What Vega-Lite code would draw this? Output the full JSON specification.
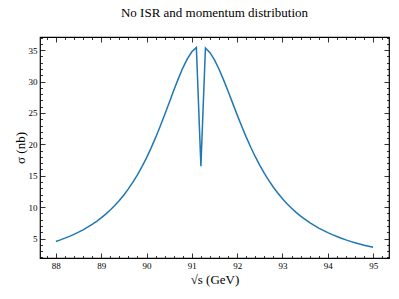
{
  "$schema": "https://vega.github.io/schema/vega-lite/v6.json",
  "width": 349,
  "height": 221,
  "autosize": "none",
  "padding": {"left": 40, "top": 37, "right": 10, "bottom": 41},
  "title": {"text": "No ISR and momentum distribution", "fontSize": 13, "fontWeight": "normal", "font": "Liberation Serif", "offset": 17, "color": "black", "anchor": "middle"},
  "data": {"values": [
    {"E": 88.0, "sigma": 4.539}, {"E": 88.1, "sigma": 4.789}, {"E": 88.2, "sigma": 5.059}, {"E": 88.3, "sigma": 5.352},
    {"E": 88.4, "sigma": 5.670}, {"E": 88.5, "sigma": 6.016}, {"E": 88.6, "sigma": 6.393}, {"E": 88.7, "sigma": 6.805},
    {"E": 88.8, "sigma": 7.255}, {"E": 88.9, "sigma": 7.749}, {"E": 89.0, "sigma": 8.290}, {"E": 89.1, "sigma": 8.885},
    {"E": 89.2, "sigma": 9.540}, {"E": 89.3, "sigma": 10.262}, {"E": 89.4, "sigma": 11.058}, {"E": 89.5, "sigma": 11.936},
    {"E": 89.6, "sigma": 12.906}, {"E": 89.7, "sigma": 13.975}, {"E": 89.8, "sigma": 15.152}, {"E": 89.9, "sigma": 16.446},
    {"E": 90.0, "sigma": 17.860}, {"E": 90.1, "sigma": 19.404}, {"E": 90.2, "sigma": 21.067}, {"E": 90.3, "sigma": 22.842},
    {"E": 90.4, "sigma": 24.711}, {"E": 90.5, "sigma": 26.634}, {"E": 90.6, "sigma": 28.566}, {"E": 90.7, "sigma": 30.431},
    {"E": 90.8, "sigma": 32.149}, {"E": 90.9, "sigma": 33.623}, {"E": 91.0, "sigma": 34.748}, {"E": 91.1, "sigma": 35.443},
    {"E": 91.2, "sigma": 16.5},
    {"E": 91.3, "sigma": 35.354}, {"E": 91.4, "sigma": 34.598}, {"E": 91.5, "sigma": 33.441}, {"E": 91.6, "sigma": 31.969},
    {"E": 91.7, "sigma": 30.274}, {"E": 91.8, "sigma": 28.446}, {"E": 91.9, "sigma": 26.567}, {"E": 92.0, "sigma": 24.696},
    {"E": 92.1, "sigma": 22.882}, {"E": 92.2, "sigma": 21.156}, {"E": 92.3, "sigma": 19.536}, {"E": 92.4, "sigma": 18.033},
    {"E": 92.5, "sigma": 16.649}, {"E": 92.6, "sigma": 15.380}, {"E": 92.7, "sigma": 14.223}, {"E": 92.8, "sigma": 13.168},
    {"E": 92.9, "sigma": 12.211}, {"E": 93.0, "sigma": 11.340}, {"E": 93.1, "sigma": 10.549}, {"E": 93.2, "sigma": 9.830},
    {"E": 93.3, "sigma": 9.176}, {"E": 93.4, "sigma": 8.580}, {"E": 93.5, "sigma": 8.037}, {"E": 93.6, "sigma": 7.540},
    {"E": 93.7, "sigma": 7.086}, {"E": 93.8, "sigma": 6.671}, {"E": 93.9, "sigma": 6.289}, {"E": 94.0, "sigma": 5.938},
    {"E": 94.1, "sigma": 5.615}, {"E": 94.2, "sigma": 5.317}, {"E": 94.3, "sigma": 5.042}, {"E": 94.4, "sigma": 4.787},
    {"E": 94.5, "sigma": 4.551}, {"E": 94.6, "sigma": 4.332}, {"E": 94.7, "sigma": 4.128}, {"E": 94.8, "sigma": 3.938},
    {"E": 94.9, "sigma": 3.761}, {"E": 95.0, "sigma": 3.596}
  ]},
  "layer": [
    {
      "mark": {"type": "line", "color": "#1f77b4", "strokeWidth": 1.5, "clip": true},
      "encoding": {
        "x": {"field": "E", "type": "quantitative", "scale": {"domain": [87.65, 95.35], "nice": false, "zero": false},
              "axis": {"orient": "bottom", "values": [88, 89, 90, 91, 92, 93, 94, 95], "tickSize": -5, "labelPadding": 8, "title": "√s (GeV)", "titleFontSize": 13, "titlePadding": 3, "format": "d"}},
        "y": {"field": "sigma", "type": "quantitative", "scale": {"domain": [1.9, 37.1], "nice": false, "zero": false},
              "axis": {"orient": "left", "values": [5, 10, 15, 20, 25, 30, 35], "tickSize": -5, "labelPadding": 8, "title": "σ (nb)", "titleFontSize": 13, "titlePadding": 1, "format": "d"}}
      }
    },
    {
      "mark": {"type": "line", "opacity": 0},
      "encoding": {
        "x": {"field": "E", "type": "quantitative", "scale": {"domain": [87.65, 95.35], "nice": false, "zero": false},
              "axis": {"orient": "bottom", "values": [87.8, 88.2, 88.4, 88.6, 88.8, 89.2, 89.4, 89.6, 89.8, 90.2, 90.4, 90.6, 90.8, 91.2, 91.4, 91.6, 91.8, 92.2, 92.4, 92.6, 92.8, 93.2, 93.4, 93.6, 93.8, 94.2, 94.4, 94.6, 94.8, 95.2], "tickSize": -2.5, "labels": false, "title": null}},
        "y": {"field": "sigma", "type": "quantitative", "scale": {"domain": [1.9, 37.1], "nice": false, "zero": false},
              "axis": {"orient": "left", "values": [2, 3, 4, 6, 7, 8, 9, 11, 12, 13, 14, 16, 17, 18, 19, 21, 22, 23, 24, 26, 27, 28, 29, 31, 32, 33, 34, 36, 37], "tickSize": -2.5, "labels": false, "title": null}}
      }
    },
    {
      "mark": {"type": "line", "opacity": 0},
      "encoding": {
        "x": {"field": "E", "type": "quantitative", "scale": {"domain": [87.65, 95.35], "nice": false, "zero": false},
              "axis": {"orient": "top", "values": [88, 89, 90, 91, 92, 93, 94, 95], "tickSize": -5, "labels": false, "title": null}},
        "y": {"field": "sigma", "type": "quantitative", "scale": {"domain": [1.9, 37.1], "nice": false, "zero": false},
              "axis": {"orient": "right", "values": [5, 10, 15, 20, 25, 30, 35], "tickSize": -5, "labels": false, "title": null}}
      }
    },
    {
      "mark": {"type": "line", "opacity": 0},
      "encoding": {
        "x": {"field": "E", "type": "quantitative", "scale": {"domain": [87.65, 95.35], "nice": false, "zero": false},
              "axis": {"orient": "top", "values": [87.8, 88.2, 88.4, 88.6, 88.8, 89.2, 89.4, 89.6, 89.8, 90.2, 90.4, 90.6, 90.8, 91.2, 91.4, 91.6, 91.8, 92.2, 92.4, 92.6, 92.8, 93.2, 93.4, 93.6, 93.8, 94.2, 94.4, 94.6, 94.8, 95.2], "tickSize": -2.5, "labels": false, "title": null}},
        "y": {"field": "sigma", "type": "quantitative", "scale": {"domain": [1.9, 37.1], "nice": false, "zero": false},
              "axis": {"orient": "right", "values": [2, 3, 4, 6, 7, 8, 9, 11, 12, 13, 14, 16, 17, 18, 19, 21, 22, 23, 24, 26, 27, 28, 29, 31, 32, 33, 34, 36, 37], "tickSize": -2.5, "labels": false, "title": null}}
      }
    }
  ],
  "resolve": {"axis": {"x": "independent", "y": "independent"}},
  "config": {
    "font": "Liberation Serif",
    "background": "white",
    "view": {"stroke": "black", "strokeWidth": 1.2},
    "axis": {"domain": false, "grid": false, "tickColor": "black", "tickWidth": 0.8, "labelColor": "black", "labelFontSize": 9, "labelFont": "Liberation Serif", "titleColor": "black", "titleFont": "Liberation Serif", "titleFontWeight": "normal"}
  }
}
